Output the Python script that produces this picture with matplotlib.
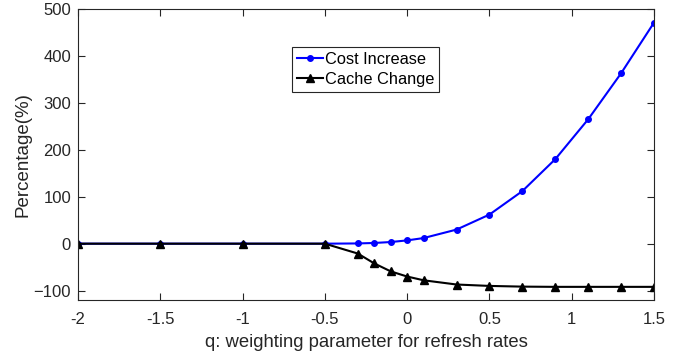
import numpy as np
import matplotlib.pyplot as plt

plt.rcParams['font.family'] = ['Liberation Sans', 'DejaVu Sans']

q = [-2, -1.5, -1, -0.5, -0.3, -0.2, -0.1, 0, 0.1, 0.3, 0.5, 0.7, 0.9, 1.1, 1.3, 1.5]
cost_increase = [0, 0, 0, 0, 0.5, 1.5, 3.5, 7, 12, 30, 62, 112, 180, 265, 363, 471]
cache_change = [0, 0, 0, 0, -21, -42, -59, -70, -78, -87, -90, -91.5, -92, -92, -92, -92]

xticks = [-2, -1.5, -1, -0.5, 0, 0.5, 1, 1.5]
yticks = [-100, 0, 100, 200, 300, 400, 500]

fig = plt.figure(figsize=(6.88, 3.58), dpi=100)
ax = fig.add_axes([78/688, 1-300/358, (654-78)/688, (300-9)/358])

ax.plot(q, cost_increase, color='#0000ff', marker='o', markersize=4, lw=1.5, label='Cost Increase')
ax.plot(q, cache_change, color='black', marker='^', markersize=6, lw=1.5, label='Cache Change')

ax.set_xlim(-2, 1.5)
ax.set_ylim(-120, 500)
ax.set_xticks(xticks)
ax.set_xticklabels(['%g' % t for t in xticks])
ax.set_yticks(yticks)
ax.tick_params(direction='in', top=True, right=True, labelsize=12, length=5,
               width=0.8, colors='#262626')
ax.tick_params(axis='x', pad=9)
ax.tick_params(axis='y', pad=5)
for s in ax.spines.values():
    s.set_linewidth(0.8)
    s.set_color('#262626')

ax.set_xlabel('q: weighting parameter for refresh rates', fontsize=13.3, color='#262626', labelpad=5)
ax.set_ylabel('Percentage(%)', fontsize=13.5, color='#262626', labelpad=1.5)

leg = ax.legend(loc='upper left', bbox_to_anchor=(0.372, 0.87), fontsize=11.8,
                fancybox=False, framealpha=1, edgecolor='#262626',
                handlelength=1.6, handletextpad=0.1, borderpad=0.3,
                labelspacing=0.3, borderaxespad=0)
leg.get_frame().set_linewidth(0.8)

fig.savefig('out.png', dpi=100)
